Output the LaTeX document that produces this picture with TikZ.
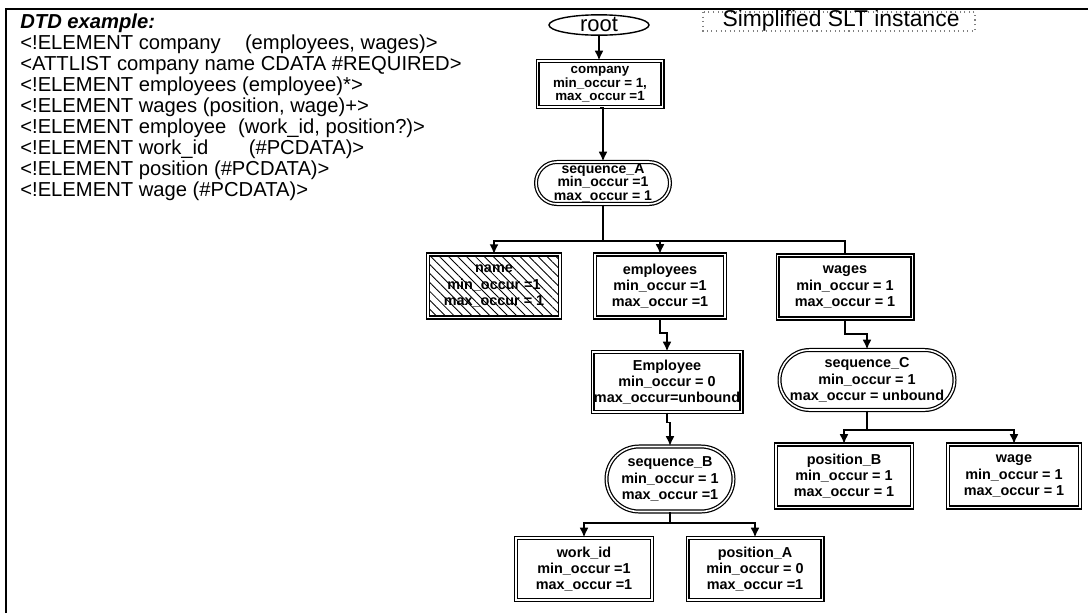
\documentclass[tikz,border=0pt]{standalone}
\usepackage{fontspec}
\setmainfont{Liberation Sans}
\usetikzlibrary{shapes.geometric,shapes.misc,patterns,patterns.meta,arrows.meta}
\begin{document}
\begin{tikzpicture}[x=0.02cm,y=-0.02cm,
  lbl/.style={font=\fontsize{11.5}{12}\selectfont, anchor=base west, inner sep=0},
  ent/.style={draw, line width=0.7pt, double, double distance=0.9pt, align=center, inner sep=0,
    font=\bfseries\fontsize{8.2}{9.2}\selectfont},
  seqn/.style={ent, rounded rectangle},
  conn/.style={line width=0.8pt},
  arr/.style={conn, -{Latex[length=5.5pt,width=5pt]}}]
\useasboundingbox (0,0) rectangle (1088,613);
% outer frame (top and left only)
\draw[line width=1.4pt] (6,613) -- (6,9) -- (1088,9);

% DTD text
\node[lbl, font=\bfseries\itshape\fontsize{11.5}{12}\selectfont] (d0) at (20,28) {DTD example:};
\node[lbl] (d1) at (20,49) {<!ELEMENT company\hspace{1.2em}(employees, wages)>};
\node[lbl] (d2) at (20,70) {<ATTLIST company name CDATA \#REQUIRED>};
\node[lbl] (d3) at (20,91) {<!ELEMENT employees (employee)*>};
\node[lbl] (d4) at (20,112) {<!ELEMENT wages (position, wage)+>};
\node[lbl] (d5) at (20,133) {<!ELEMENT employee\hspace{0.3em} (work\_id, position?)>};
\node[lbl] (d6) at (20,154) {<!ELEMENT work\_id\hspace{2em}(\#PCDATA)>};
\node[lbl] (d7) at (20,175) {<!ELEMENT position (\#PCDATA)>};
\node[lbl] (d8) at (20,196) {<!ELEMENT wage (\#PCDATA)>};

% title of instance
\draw[gray, dotted, line width=0.6pt] (703,12) rectangle (975,31);
\node[font=\fontsize{13}{14}\selectfont, inner sep=0] (title) at (841,21) {Simplified SLT instance};

% nodes
\node[draw, ellipse, line width=0.8pt, minimum width=2.0cm, minimum height=0.38cm, inner sep=0,
  font=\fontsize{12.5}{13}\selectfont] (root) at (599,25) {root};
\node[ent, minimum width=2.5cm, minimum height=0.92cm, font=\bfseries\fontsize{7.6}{7}\selectfont]
  (company) at (600,84) {company\\min\_occur = 1,\\max\_occur =1};
\node[seqn, minimum width=2.68cm, minimum height=0.84cm, font=\bfseries\fontsize{8}{7.7}\selectfont]
  (seqA) at (603,183) {sequence\_A\\min\_occur =1\\max\_occur = 1};
\node[ent, pattern={Lines[angle=-45,distance=3.6pt,line width=0.5pt]}, minimum width=2.64cm, minimum height=1.26cm]
  (name) at (494,286) {name\\min\_occur =1\\max\_occur = 1};
\node[ent, minimum width=2.6cm, minimum height=1.26cm]
  (employees) at (660,286) {employees\\min\_occur =1\\max\_occur =1};
\node[ent, minimum width=2.7cm, minimum height=1.26cm]
  (wages) at (845,287) {wages\\min\_occur = 1\\max\_occur = 1};
\node[ent, minimum width=2.98cm, minimum height=1.2cm]
  (employee) at (667,382) {Employee\\min\_occur = 0\\max\_occur=unbound};
\node[seqn, minimum width=2.54cm, minimum height=1.3cm]
  (seqB) at (670,479) {sequence\_B\\min\_occur = 1\\max\_occur =1};
\node[seqn, minimum width=3.5cm, minimum height=1.2cm]
  (seqC) at (867,380) {sequence\_C\\min\_occur = 1\\max\_occur = unbound};
\node[ent, minimum width=2.72cm, minimum height=1.26cm]
  (posB) at (844,476) {position\_B\\min\_occur = 1\\max\_occur = 1};
\node[ent, minimum width=2.64cm, minimum height=1.26cm]
  (wage) at (1014,476) {wage\\min\_occur = 1\\max\_occur = 1};
\node[ent, minimum width=2.72cm, minimum height=1.24cm]
  (workid) at (584,569) {work\_id\\min\_occur =1\\max\_occur =1};
\node[ent, minimum width=2.7cm, minimum height=1.24cm]
  (posA) at (755,569) {position\_A\\min\_occur = 0\\max\_occur =1};

% connectors
\coordinate (busA) at (603,241);
\coordinate (busB) at (670,523);
\coordinate (busC) at (867,430);
\draw[arr] (root.south) -- (root.south |- company.north);
\draw[arr] (company.south) -- (company.south -| seqA.north) -- (seqA.north);
\draw[conn] (seqA.south) -- (busA);
\draw[arr] (busA) -| (name.north);
\draw[arr] (busA) -| (employees.north);
\draw[conn] (busA) -| (wages.north);
\draw[arr] (employees.south) -- ++(0,15) -| (employee.north);
\draw[arr] (employee.south) -- ++(0,10) -| (seqB.north);
\draw[conn] (seqB.south) -- (busB);
\draw[arr] (busB) -| (workid.north);
\draw[arr] (busB) -| (posA.north);
\draw[arr] (wages.south) -- ++(0,15) -| (seqC.north);
\draw[conn] (seqC.south) -- (busC);
\draw[arr] (busC) -| (posB.north);
\draw[arr] (busC) -| (wage.north);
\end{tikzpicture}
\end{document}
